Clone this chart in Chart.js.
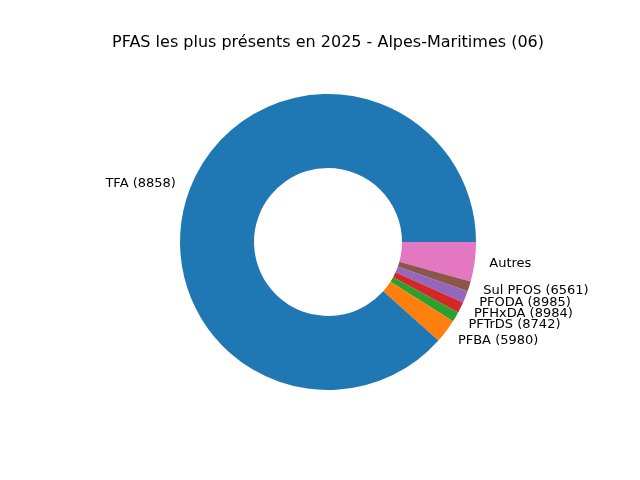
<!DOCTYPE html>
<html>
<head>
<meta charset="utf-8">
<script src="https://cdn.jsdelivr.net/npm/chart.js@4/dist/chart.umd.min.js"></script>
<style>
  body { margin: 0; background: #fff; }
  #wrap { width: 640px; height: 480px; }
</style>
</head>
<body>
<div id="wrap"><canvas id="graf"></canvas></div>
<script>
// données (ordre matplotlib, sens anti-horaire depuis 3h)
const etiquettes = ["TFA (8858)", "PFBA (5980)", "PFTrDS (8742)", "PFHxDA (8984)", "PFODA (8985)", "Sul PFOS (6561)", "Autres"];
const valeurs = [88.4, 2.6, 1.1, 1.2, 1.3, 1.1, 4.3];
const couleurs = ["#1f77b4", "#ff7f0e", "#2ca02c", "#d62728", "#9467bd", "#8c564b", "#e377c2"];
const titre = "PFAS les plus présents en 2025 - Alpes-Maritimes (06)";

// Chart.js tourne dans le sens horaire : on inverse l'ordre, départ à 3h
const lab = etiquettes.slice().reverse();
const val = valeurs.slice().reverse();
const col = couleurs.slice().reverse();

const etiquettesPlugin = {
  id: 'etiquettes',
  afterDraw(chart) {
    const ctx = chart.ctx;
    ctx.save();
    ctx.fillStyle = '#000';
    ctx.font = '13px "DejaVu Sans"';
    ctx.textBaseline = 'middle';
    chart.getDatasetMeta(0).data.forEach((arc, i) => {
      const a = (arc.startAngle + arc.endAngle) / 2;
      const r = arc.outerRadius * 1.1;
      const x = arc.x + Math.cos(a) * r;
      const y = arc.y + Math.sin(a) * r;
      ctx.textAlign = Math.cos(a) >= 0 ? 'left' : 'right';
      ctx.fillText(lab[i], x, y);
    });
    ctx.font = '16px "DejaVu Sans"';
    ctx.textAlign = 'center';
    ctx.fillText(titre, 328, 43);
    ctx.restore();
  }
};

new Chart(document.getElementById('graf'), {
  type: 'doughnut',
  data: {
    labels: lab,
    datasets: [{ data: val, backgroundColor: col, borderWidth: 0 }]
  },
  options: {
    responsive: true,
    maintainAspectRatio: false,
    animation: false,
    rotation: 90,
    cutout: '50%',
    layout: { padding: { top: 94, bottom: 90, left: 180, right: 164 } },
    plugins: { legend: { display: false }, tooltip: { enabled: false }, title: { display: false } }
  },
  plugins: [etiquettesPlugin]
});
</script>
</body>
</html>
